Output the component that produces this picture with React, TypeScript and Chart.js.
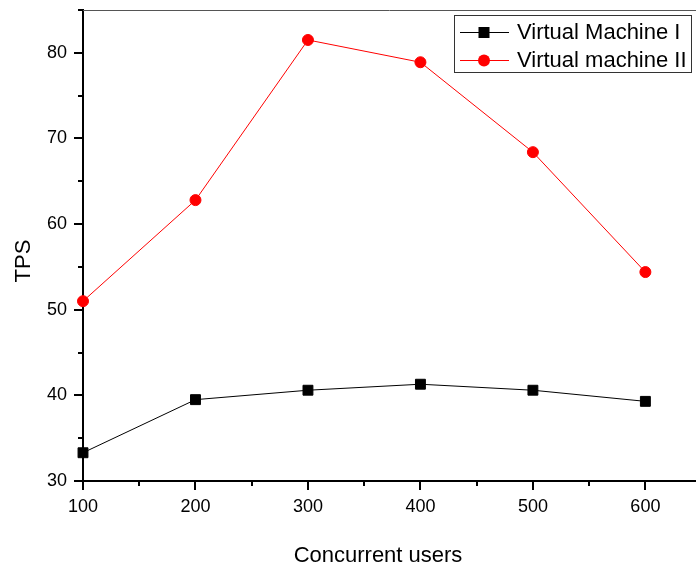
import React, { useEffect, useRef } from "react";
import { Chart, registerables } from "chart.js";

Chart.register(...registerables);

const users = [100, 200, 300, 400, 500, 600];
const vm1 = [33.3, 39.5, 40.6, 41.3, 40.6, 39.3];
const vm2 = [51.0, 62.8, 81.5, 78.9, 68.4, 54.4];
const seriesNames = ["Virtual Machine I", "Virtual machine II"];
const xTicks = [100, 150, 200, 250, 300, 350, 400, 450, 500, 550, 600];
const yTicks = [30, 35, 40, 45, 50, 55, 60, 65, 70, 75, 80, 85];
const xTitle = "Concurrent users";
const yTitle = "TPS";

const FONT = "'Liberation Sans', Arial, sans-serif";

const framePlugin = {
  id: "frameAndLegend",
  afterDraw(chart: any) {
    const { ctx, chartArea, scales } = chart;
    const x = scales.x;
    const y = scales.y;
    ctx.save();
    // top frame line
    ctx.strokeStyle = "#555";
    ctx.lineWidth = 1;
    ctx.beginPath();
    ctx.moveTo(chartArea.left, chartArea.top + 0.5);
    ctx.lineTo(chartArea.right, chartArea.top + 0.5);
    ctx.stroke();
    // minor ticks
    ctx.strokeStyle = "#000";
    ctx.lineWidth = 2;
    ctx.beginPath();
    xTicks.forEach((v) => {
      if (v % 100 !== 0) {
        const px = Math.round(x.getPixelForValue(v));
        ctx.moveTo(px, chartArea.bottom);
        ctx.lineTo(px, chartArea.bottom + 5);
      }
    });
    yTicks.forEach((v) => {
      if (v % 10 !== 0) {
        const py = Math.round(y.getPixelForValue(v));
        ctx.moveTo(chartArea.left, py);
        ctx.lineTo(chartArea.left - 5, py);
      }
    });
    ctx.stroke();

    // axis titles
    ctx.fillStyle = "#000";
    ctx.font = `22px ${FONT}`;
    ctx.textAlign = "center";
    ctx.textBaseline = "alphabetic";
    ctx.fillText(xTitle, 378, 562);
    ctx.save();
    ctx.translate(30, 261);
    ctx.rotate(-Math.PI / 2);
    ctx.fillText(yTitle, 0, 0);
    ctx.restore();

    // legend
    const bx = 454.5, by = 15.5, bw = 237, bh = 57;
    ctx.fillStyle = "#fff";
    ctx.fillRect(bx, by, bw, bh);
    ctx.strokeStyle = "#333";
    ctx.lineWidth = 1;
    ctx.strokeRect(bx, by, bw, bh);
    const rows = [
      { name: seriesNames[0], color: "#000", y: 32, shape: "rect" },
      { name: seriesNames[1], color: "#ff0000", y: 60, shape: "circle" },
    ];
    rows.forEach((r) => {
      ctx.strokeStyle = r.color;
      ctx.lineWidth = 1;
      ctx.beginPath();
      ctx.moveTo(460, r.y + 0.5);
      ctx.lineTo(509, r.y + 0.5);
      ctx.stroke();
      ctx.fillStyle = r.color;
      if (r.shape === "rect") {
        ctx.fillRect(484 - 5.5, r.y - 5, 11, 11);
      } else {
        ctx.beginPath();
        ctx.arc(484, r.y + 0.5, 6, 0, Math.PI * 2);
        ctx.fill();
      }
      ctx.fillStyle = "#000";
      ctx.font = `22px ${FONT}`;
      ctx.textBaseline = "middle";
      ctx.textAlign = "left";
      ctx.fillText(r.name, 517, r.y + 1);
    });
    ctx.restore();
  },
};

export default function App() {
  const ref = useRef<HTMLCanvasElement | null>(null);
  useEffect(() => {
    if (!ref.current) return;
    const chart = new Chart(ref.current, {
      type: "line",
      data: {
        datasets: [
          {
            label: seriesNames[0],
            data: users.map((u, i) => ({ x: u, y: vm1[i] })),
            borderColor: "#000",
            backgroundColor: "#000",
            borderWidth: 1,
            pointStyle: "rect",
            pointRadius: 7,
            pointBorderWidth: 1,
            pointBorderColor: "#000",
            pointBackgroundColor: "#000",
            clip: false as any,
          },
          {
            label: seriesNames[1],
            data: users.map((u, i) => ({ x: u, y: vm2[i] })),
            borderColor: "#ff0000",
            backgroundColor: "#ff0000",
            borderWidth: 1,
            pointStyle: "circle",
            pointRadius: 5.5,
            pointBorderWidth: 1,
            pointBorderColor: "#ff0000",
            pointBackgroundColor: "#ff0000",
            clip: false as any,
          },
        ],
      },
      options: {
        responsive: true,
        maintainAspectRatio: false,
        animation: false,
        layout: {
          autoPadding: false,
          padding: { top: 10, right: 0, left: 0, bottom: 0 },
        },
        plugins: { legend: { display: false }, tooltip: { enabled: false } },
        scales: {
          x: {
            type: "linear",
            min: 100,
            max: 645,
            afterBuildTicks: (s: any) => {
              s.ticks = xTicks.map((v) => ({ value: v }));
            },
            afterFit: (s: any) => {
              s.height = 89;
              s.paddingLeft = 0;
              s.paddingRight = 0;
              s.paddingTop = 0;
              s.paddingBottom = 0;
            },
            ticks: {
              color: "#000",
              font: { family: FONT, size: 18 },
              padding: 6,
              maxRotation: 0,
              autoSkip: false,
              callback: (v: any) => (Number(v) % 100 === 0 ? String(v) : ""),
            },
            grid: {
              drawOnChartArea: false,
              drawTicks: true,
              tickLength: 9,
              lineWidth: 2,
              color: (c: any) =>
                c.tick && c.tick.value % 100 === 0 ? "#000" : "rgba(0,0,0,0)",
            },
            border: { display: true, color: "#000", width: 2 },
            title: { display: false },
          },
          y: {
            type: "linear",
            min: 30,
            max: 85,
            afterBuildTicks: (s: any) => {
              s.ticks = yTicks.map((v) => ({ value: v }));
            },
            afterFit: (s: any) => {
              s.width = 83;
              s.paddingLeft = 0;
              s.paddingRight = 0;
              s.paddingTop = 0;
              s.paddingBottom = 0;
            },
            ticks: {
              color: "#000",
              font: { family: FONT, size: 18 },
              padding: 7,
              autoSkip: false,
              callback: (v: any) => (Number(v) % 10 === 0 ? String(v) : ""),
            },
            grid: {
              drawOnChartArea: false,
              drawTicks: true,
              tickLength: 9,
              lineWidth: 2,
              color: (c: any) =>
                c.tick && c.tick.value % 10 === 0 ? "#000" : "rgba(0,0,0,0)",
            },
            border: { display: true, color: "#000", width: 2 },
            title: { display: false },
          },
        },
      },
      plugins: [framePlugin],
    });
    return () => chart.destroy();
  }, []);
  return (
    <div style={{ position: "fixed", left: 0, top: 0, width: 696, height: 570 }}>
      <canvas ref={ref} />
    </div>
  );
}
